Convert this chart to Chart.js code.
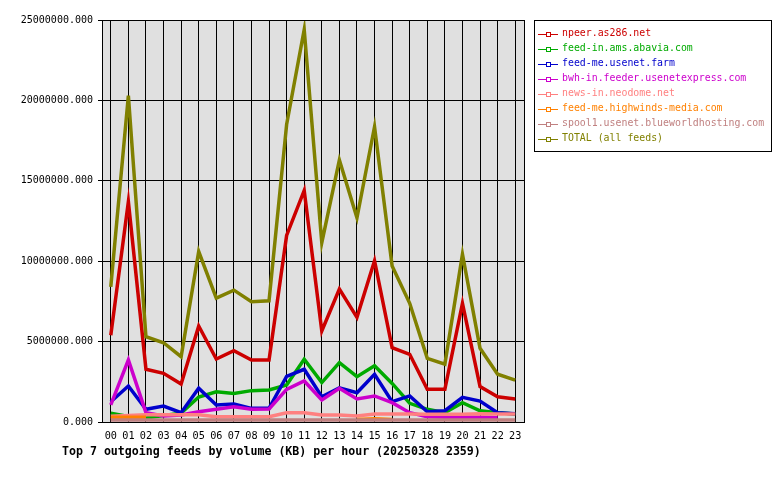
<!DOCTYPE html>
<html>
<head>
<meta charset="utf-8">
<script src="https://cdn.jsdelivr.net/npm/chart.js@4/dist/chart.umd.min.js"></script>
<style>
html,body{margin:0;padding:0;background:#fff;}
#wrap{width:780px;height:480px;position:relative;}
</style>
</head>
<body>
<div id="wrap"><canvas id="c" width="780" height="480"></canvas></div>
<script>
const hours = ["00","01","02","03","04","05","06","07","08","09","10","11","12","13","14","15","16","17","18","19","20","21","22","23"];
const titleText = "Top 7 outgoing feeds by volume (KB) per hour (20250328 2359)";
const feedNames = ["npeer.as286.net","feed-in.ams.abavia.com","feed-me.usenet.farm","bwh-in.feeder.usenetexpress.com","news-in.neodome.net","feed-me.highwinds-media.com","spool1.usenet.blueworldhosting.com","TOTAL (all feeds)"];
const feedColors = ["#CC0000","#00AA00","#0000CC","#CC00CC","#FF8080","#FF8000","#C08080","#808000"];

const npeer   = [5400000,13700000,3280000,3030000,2360000,5970000,3920000,4440000,3860000,3860000,11600000,14400000,5660000,8270000,6510000,10030000,4620000,4210000,2030000,2030000,7380000,2200000,1570000,1430000];
const abavia  = [550000,350000,250000,400000,550000,1550000,1880000,1780000,1950000,1990000,2300000,3900000,2450000,3690000,2820000,3500000,2400000,1160000,790000,580000,1200000,700000,580000,500000];
const usenetFarm = [1260000,2240000,790000,990000,580000,2100000,1060000,1120000,850000,850000,2840000,3280000,1570000,2130000,1820000,2970000,1260000,1620000,640000,700000,1530000,1300000,580000,520000];
const bwh     = [1060000,3860000,580000,370000,430000,640000,790000,950000,790000,810000,2030000,2550000,1370000,2100000,1430000,1620000,1200000,580000,330000,300000,300000,300000,270000,null];
const neodome = [350000,400000,450000,450000,450000,450000,330000,330000,330000,330000,580000,580000,430000,430000,370000,500000,500000,500000,480000,480000,480000,520000,500000,500000];
const highwinds = [300000,300000,300000,null,null,null,null,null,null,null,null,null,null,null,150000,200000,150000,null,null,null,null,null,null,null];
const blueworld = [120000,120000,120000,120000,120000,120000,120000,120000,120000,120000,120000,120000,120000,120000,120000,120000,120000,120000,120000,120000,120000,120000,120000,120000];
const total   = [8400000,20300000,5300000,4930000,4060000,10600000,7700000,8200000,7480000,7540000,18500000,24400000,11150000,16300000,12700000,18360000,9700000,7380000,3960000,3600000,10430000,4580000,2970000,2600000];

const yTicks = [0,5000000,10000000,15000000,20000000,25000000];

const seriesData = [npeer, abavia, usenetFarm, bwh, neodome, highwinds, blueworld, total];

const MONO = '"DejaVu Sans Mono", "Liberation Mono", monospace';

const plotDecor = {
  id: 'plotDecor',
  beforeDraw(chart) {
    const {ctx, chartArea: a} = chart;
    ctx.save();
    ctx.fillStyle = '#E0E0E0';
    ctx.fillRect(a.left, a.top, a.right - a.left, a.bottom - a.top);
    ctx.restore();
  },
  afterDraw(chart) {
    const {ctx, chartArea: a} = chart;
    ctx.save();
    ctx.strokeStyle = '#000';
    ctx.lineWidth = 1;
    ctx.strokeRect(Math.round(a.left) + 0.5, Math.round(a.top) + 0.5, Math.round(a.right - a.left), Math.round(a.bottom - a.top));
    // title
    ctx.fillStyle = '#000';
    ctx.font = 'bold 11.6px ' + MONO;
    ctx.textBaseline = 'middle';
    ctx.textAlign = 'left';
    ctx.fillText(titleText, 62, 452);
    // legend box
    const lx = 534, ly = 20, lw = 237, lh = 131;
    ctx.strokeRect(lx + 0.5, ly + 0.5, lw, lh);
    ctx.font = '9.9px ' + MONO;
    chart.data.datasets.forEach((ds, i) => {
      const y = 33.5 + i * 15;
      ctx.strokeStyle = ds.borderColor;
      ctx.lineWidth = 1;
      ctx.beginPath();
      ctx.moveTo(538, Math.round(y) + 0.5);
      ctx.lineTo(558, Math.round(y) + 0.5);
      ctx.stroke();
      ctx.fillStyle = '#fff';
      ctx.fillRect(547, Math.round(y) - 1, 3, 3);
      ctx.strokeRect(546.5, Math.round(y) - 1.5, 4, 4);
      ctx.fillStyle = ds.borderColor;
      ctx.fillText(ds.label, 562, y);
    });
    ctx.restore();
  }
};

const datasets = seriesData.map((d, i) => ({
  label: feedNames[i],
  data: d,
  borderColor: feedColors[i],
  backgroundColor: feedColors[i],
  borderWidth: 3.5,
  pointRadius: 0,
  tension: 0,
  fill: false,
  spanGaps: false,
  order: -i
}));

new Chart(document.getElementById('c'), {
  type: 'line',
  data: { labels: hours, datasets },
  options: {
    responsive: false,
    animation: false,
    devicePixelRatio: 1,
    layout: { padding: { top: 20, right: 256, left: 0, bottom: 0 } },
    plugins: { legend: { display: false }, tooltip: { enabled: false }, title: { display: false } },
    scales: {
      x: {
        offset: true,
        grid: { color: '#000', lineWidth: 1, drawTicks: false, offset: false },
        border: { display: true, color: '#000' },
        ticks: { color: '#000', font: { family: MONO, size: 10.2 }, padding: 8, maxRotation: 0, autoSkip: false },
        afterFit(s) { s.height = 58; }
      },
      y: {
        min: 0,
        max: 25000000,
        afterBuildTicks(s) { s.ticks = yTicks.map(v => ({ value: v })); },
        grid: { color: '#000', lineWidth: 1, drawTicks: true, tickLength: 4 },
        border: { display: true, color: '#000' },
        ticks: { color: '#000', font: { family: MONO, size: 10 }, padding: 5, callback: v => Number(v).toFixed(3) },
        afterFit(s) { s.width = 102; }
      }
    }
  },
  plugins: [plotDecor]
});
</script>
</body>
</html>
